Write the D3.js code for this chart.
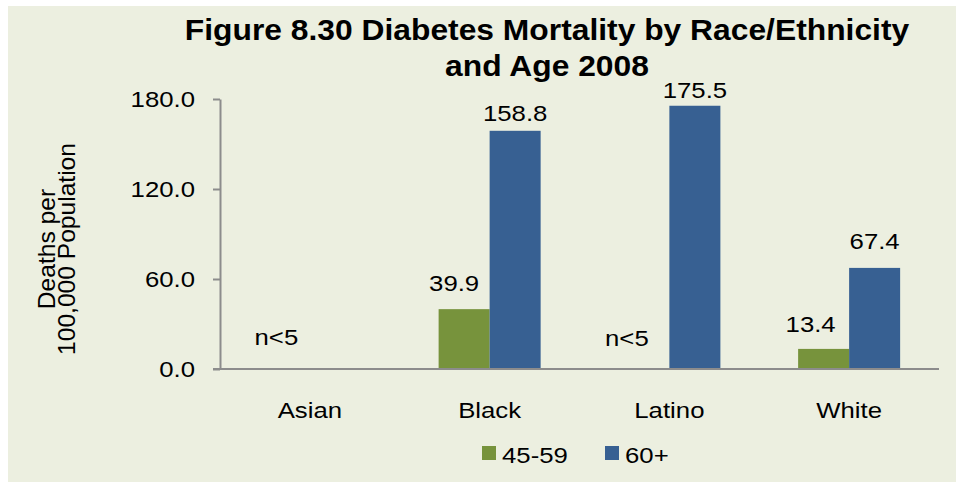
<!DOCTYPE html>
<html>
<head>
<meta charset="utf-8">
<script src="https://cdn.jsdelivr.net/npm/d3@7"></script>
<style>
  html, body { margin: 0; padding: 0; background: #ffffff; }
  svg { display: block; font-family: "Liberation Sans", Arial, sans-serif; }
</style>
</head>
<body>
<svg id="chart" width="956" height="482"></svg>
<script>
// ---- data ----
const categories = ["Asian", "Black", "Latino", "White"];
const seriesNames = ["45-59", "60+"];
const values4559 = [null, 39.9, null, 13.4];
const values60plus = [null, 158.8, 175.5, 67.4];
const labels4559 = ["n<5", "39.9", "n<5", "13.4"];
const labels60plus = ["", "158.8", "175.5", "67.4"];
const yTicks = [0, 60, 120, 180];
const titleLines = ["Figure 8.30 Diabetes Mortality by Race/Ethnicity", "and Age 2008"];
const yTitleLines = ["Deaths per", "100,000 Population"];

// ---- layout / style constants ----
const colors = ["#77933C", "#376092"];
// manual label nudges [dx, gap above bar top] as placed in the original
const nudge4559 = [[-8, 24], [-10, 18], [-17, 23], [-13, 17]];
const nudge60plus = [[0, 0], [0, 10], [0, 8], [0, 19]];
const SX = 1.12; // horizontal stretch of regular text in the original

const svg = d3.select("#chart");
svg.append("rect").attr("x", 8).attr("y", 6).attr("width", 948).attr("height", 476).attr("fill", "#ECEFE0");

const plot = { left: 220, right: 939, top: 99, bottom: 369 };

const x0 = d3.scaleBand().domain(categories).range([plot.left, plot.right]).paddingInner(0).paddingOuter(0);
const x1 = d3.scaleBand().domain(seriesNames).range([0, x0.bandwidth()]).paddingInner(0).paddingOuter(0.762);
const y = d3.scaleLinear().domain([0, 180]).range([plot.bottom, plot.top]);

function txt(parent, x, yy, s, opts) {
  opts = opts || {};
  const g = parent.append("g").attr("transform", `translate(${x},${yy})` + (opts.rotate ? ` rotate(${opts.rotate})` : ""));
  const t = g.append("text")
    .attr("transform", `scale(${opts.sx || SX},1)`)
    .attr("text-anchor", opts.anchor || "middle")
    .attr("font-size", opts.size || 23)
    .attr("font-weight", opts.weight || "normal")
    .attr("fill", "#000")
    .text(s);
  return t;
}

// title
txt(svg, 547, 39.5, titleLines[0], { size: 30, weight: "bold", sx: 1.06 });
txt(svg, 547, 75.5, titleLines[1], { size: 30, weight: "bold", sx: 1.06 });

// y axis title
const ytg = svg.append("g");
txt(ytg, 55, 249, yTitleLines[0], { rotate: -90, sx: 1.07 });
txt(ytg, 75, 249, yTitleLines[1], { rotate: -90, sx: 1.07 });

// bars
const seriesData = [values4559, values60plus];
seriesData.forEach((vals, si) => {
  svg.append("g").selectAll("rect")
    .data(categories.map((c, i) => ({ c, v: vals[i] })).filter(d => d.v != null))
    .join("rect")
    .attr("x", d => x0(d.c) + x1(seriesNames[si]))
    .attr("y", d => y(d.v))
    .attr("width", x1.bandwidth())
    .attr("height", d => y(0) - y(d.v))
    .attr("fill", colors[si]);
});

// y axis
const yAxis = d3.axisLeft(y).tickValues(yTicks).tickSize(7).tickSizeOuter(0).tickFormat(d3.format(".1f"));
const yg = svg.append("g").attr("transform", `translate(${plot.left},0)`).call(yAxis);
yg.select(".domain").attr("stroke", "#8C8C8C").attr("stroke-width", 2);
yg.selectAll(".tick line").attr("stroke", "#8C8C8C").attr("stroke-width", 2);
yg.selectAll(".tick text").remove();
yTicks.forEach(t => txt(svg, 195, y(t) + 8, d3.format(".1f")(t), { anchor: "end" }));

// x axis line
const xg = svg.append("g").attr("transform", `translate(0,${plot.bottom})`)
  .call(d3.axisBottom(x0).tickSize(0).tickSizeOuter(0));
xg.select(".domain").attr("stroke", "#8C8C8C").attr("stroke-width", 2).attr("d", `M${plot.left - 7},0H${plot.right}`);
xg.selectAll(".tick text").remove();
categories.forEach(c => txt(svg, x0(c) + x0.bandwidth() / 2, 418, c));

// data labels
const labelSets = [labels4559, labels60plus];
const nudges = [nudge4559, nudge60plus];
seriesData.forEach((vals, si) => {
  categories.forEach((c, i) => {
    const lab = labelSets[si][i];
    if (!lab) return;
    const v = vals[i] == null ? 0 : vals[i];
    const cx = x0(c) + x1(seriesNames[si]) + x1.bandwidth() / 2 + nudges[si][i][0];
    txt(svg, cx, y(v) - nudges[si][i][1], lab);
  });
});

// legend
const legendItems = [{ name: seriesNames[0], x: 482 }, { name: seriesNames[1], x: 605 }];
legendItems.forEach((it, i) => {
  svg.append("rect").attr("x", it.x).attr("y", 446).attr("width", 14).attr("height", 14).attr("fill", colors[i]);
  txt(svg, it.x + 20, 463, it.name, { anchor: "start" });
});
</script>
</body>
</html>
